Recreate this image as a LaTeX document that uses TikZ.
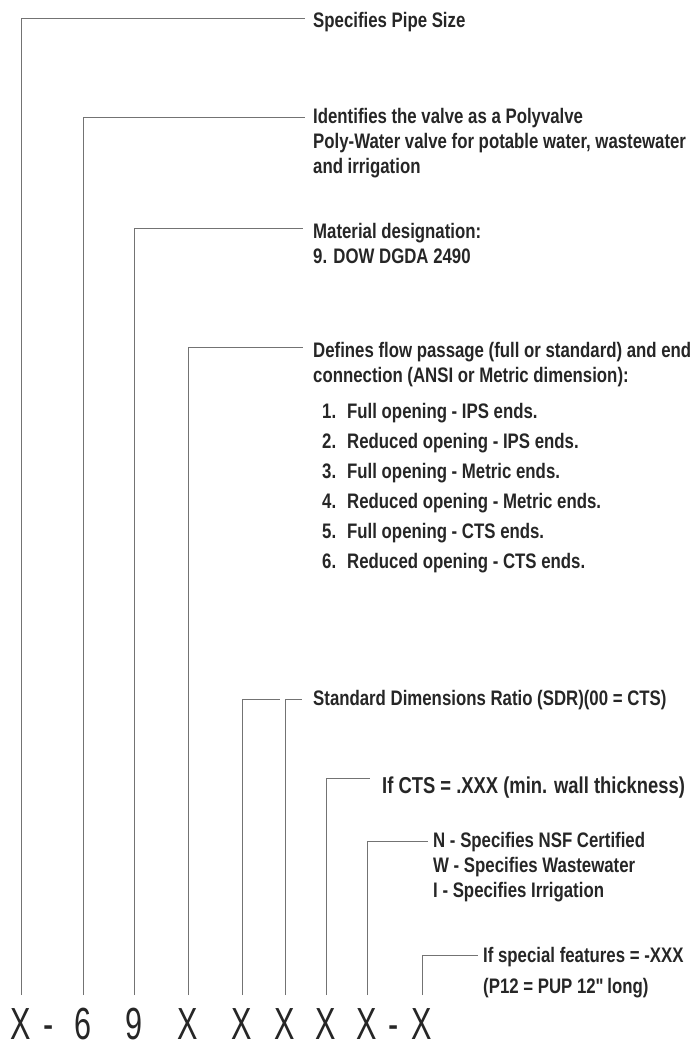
\documentclass[tikz,border=0pt]{standalone}
\usepackage{fontspec}
\setmainfont[FakeStretch=0.8]{Liberation Sans}
\newfontfamily\codefont[FakeStretch=0.68]{Liberation Sans}
\usepackage{tikz}

\begin{document}
\begin{tikzpicture}[x=1pt,y=-1pt,
            leader/.style={draw=black!55,line width=0.9pt},
            desc/.style={font=\fontsize{21}{25}\selectfont\bfseries,text=black!85,
                anchor=base west,align=left,inner sep=0pt},
            code/.style={font=\codefont\fontsize{45}{45}\selectfont,text=black!85,
                anchor=base,inner sep=0pt}]
    \useasboundingbox (0,0) rectangle (691,1042);

    % part number along the bottom
    \foreach \k/\x/\ch in {1/21/X,2/83/6,3/134/9,4/188/X,5/242/X,6/285/X,7/326/X,8/367/X,9/422/X}
        \node[code] (c\k) at (\x,1039) {\ch};
    \node[code] (d1) at (49,1039) {-};
    \node[code] (d2) at (394,1039) {-};

    % ends of the leaders
    \coordinate (e1) at (305,18);
    \coordinate (e2) at (305,117);
    \coordinate (e3) at (303,228);
    \coordinate (e4) at (303,347);
    \coordinate (e5a) at (280,699);
    \coordinate (e5) at (302,699);
    \coordinate (e6) at (370,778);
    \coordinate (e7) at (428,841);
    \coordinate (e8) at (478,955);

    \draw[leader] ([yshift=44pt]c1.base) |- (e1);
    \draw[leader] ([yshift=44pt]c2.base) |- (e2);
    \draw[leader] ([yshift=44pt]c3.base) |- (e3);
    \draw[leader] ([yshift=44pt]c4.base) |- (e4);
    \draw[leader] ([yshift=44pt]c5.base) |- (e5a);
    \draw[leader] ([yshift=44pt]c6.base) |- (e5);
    \draw[leader] ([yshift=44pt]c7.base) |- (e6);
    \draw[leader] ([yshift=44pt]c8.base) |- (e7);
    \draw[leader] ([yshift=44pt]c9.base) |- (e8);

    % descriptions (base = baseline of the last line)
    \node[desc] (t1) at (313,27) {Specifies Pipe Size};
    \node[desc] (t2) at (313,173) {Identifies the valve as a Polyvalve\\
        Poly-Water valve for potable water, wastewater\\and irrigation};
    \node[desc] (t3) at (313,263) {Material designation:\\9. DOW DGDA 2490};
    \node[desc] (t4) at (313,382) {Defines flow passage (full or standard) and end\\
        connection (ANSI or Metric dimension):};
    \foreach \n/\txt in {1/Full opening - IPS ends.,2/Reduced opening - IPS ends.,
            3/Full opening - Metric ends.,4/Reduced opening - Metric ends.,
            5/Full opening - CTS ends.,6/Reduced opening - CTS ends.}
        \node[desc] (i\n) at (322,388+30*\n) {\makebox[25pt][l]{\n.}\txt};
    \node[desc] (t5) at (313,705) {Standard Dimensions Ratio (SDR)(00 = CTS)};
    \node[desc,font=\fontsize{23}{27}\selectfont\bfseries] (t6) at (382,793)
        {If CTS = .XXX (min. wall thickness)};
    \node[desc] (t7) at (433,897) {N - Specifies NSF Certified\\
        W - Specifies Wastewater\\I - Specifies Irrigation};
    \node[desc,font=\fontsize{21}{31}\selectfont\bfseries] (t8) at (483,993)
        {If special features = -XXX\\(P12 = PUP 12\XeTeXglyph\XeTeXcharglyph"22\relax\kern-3pt\ long)};
\end{tikzpicture}
\end{document}
